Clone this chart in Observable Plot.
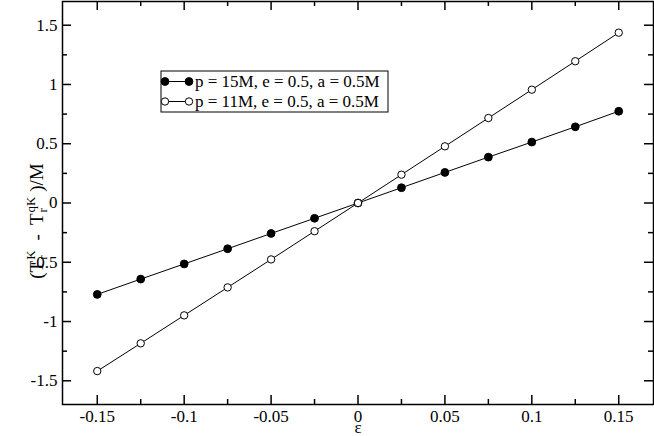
<!DOCTYPE html>
<html>
<head>
<meta charset="utf-8">
<script src="https://cdn.jsdelivr.net/npm/d3@7"></script>
<script src="https://cdn.jsdelivr.net/npm/@observablehq/plot@0.6"></script>
<style>
  html, body { margin: 0; padding: 0; background: white; }
</style>
</head>
<body>
<div id="chart"></div>
<script>
// ---- data ----
const eps = [-0.15, -0.125, -0.1, -0.075, -0.05, -0.025, 0, 0.025, 0.05, 0.075, 0.1, 0.125, 0.15];
const p15 = [-0.771, -0.642, -0.514, -0.386, -0.257, -0.129, 0, 0.129, 0.258, 0.387, 0.514, 0.643, 0.774];
const p11 = [-1.418, -1.184, -0.948, -0.712, -0.476, -0.238, 0, 0.239, 0.478, 0.717, 0.956, 1.196, 1.437];
const seriesNames = ["p = 15M, e = 0.5, a = 0.5M", "p = 11M, e = 0.5, a = 0.5M"];
const xMajor = [-0.15, -0.1, -0.05, 0, 0.05, 0.1, 0.15];
const xMinor = [-0.125, -0.075, -0.025, 0.025, 0.075, 0.125];
const yMajor = [-1.5, -1, -0.5, 0, 0.5, 1, 1.5];
const yMinor = [-1.25, -0.75, -0.25, 0.25, 0.75, 1.25];
const xDomain = [-0.17, 0.17];
const yDomain = [-1.7, 1.7];
const xLabel = "ε";

const d15 = eps.map((e, i) => ({x: e, y: p15[i]}));
const d11 = eps.map((e, i) => ({x: e, y: p11[i]}));

const font = "'Liberation Serif', 'Times New Roman', serif";
const fmt = d => String(d);
const [xMin, xMax] = xDomain;
const [yMin, yMax] = yDomain;

// inward ticks on all four sides, as short rules anchored on the frame
function ticksX(values, len, w) {
  return [
    Plot.ruleX(values, {x: d => d, y1: () => yMin, y2: () => yMin, insetBottom: len, stroke: "#000", strokeWidth: w}),
    Plot.ruleX(values, {x: d => d, y1: () => yMax, y2: () => yMax, insetTop: len, stroke: "#000", strokeWidth: w})
  ];
}
function ticksY(values, len, w) {
  return [
    Plot.ruleY(values, {y: d => d, x1: () => xMin, x2: () => xMin, insetLeft: len, stroke: "#000", strokeWidth: w}),
    Plot.ruleY(values, {y: d => d, x1: () => xMax, x2: () => xMax, insetRight: len, stroke: "#000", strokeWidth: w})
  ];
}

const chart = Plot.plot({
  width: 654,
  height: 436,
  marginLeft: 62,
  marginRight: 1,
  marginTop: 1,
  marginBottom: 32,
  style: {fontFamily: font, fontSize: "17px", background: "white"},
  x: {domain: xDomain, axis: null},
  y: {domain: yDomain, axis: null},
  marks: [
    Plot.axisX({anchor: "bottom", ticks: xMajor, tickSize: 0, tickPadding: 5, tickFormat: fmt, label: null}),
    Plot.axisY({anchor: "left", ticks: yMajor, tickSize: 0, tickPadding: 5, tickFormat: fmt, label: null}),
    Plot.text([xLabel], {frameAnchor: "bottom", dy: 28, lineAnchor: "bottom"}),
    Plot.line(d15, {x: "x", y: "y", stroke: "black", strokeWidth: 1}),
    Plot.line(d11, {x: "x", y: "y", stroke: "black", strokeWidth: 1}),
    Plot.dot(d15, {x: "x", y: "y", r: 3.9, fill: "black", stroke: "black", strokeWidth: 1}),
    Plot.dot(d11, {x: "x", y: "y", r: 3.7, fill: "white", stroke: "black", strokeWidth: 1}),
    Plot.frame({stroke: "black", strokeWidth: 1.5}),
    ...ticksX(xMajor, 9, 1.5),
    ...ticksX(xMinor, 5, 1.5),
    ...ticksY(yMajor, 9, 1.5),
    ...ticksY(yMinor, 5, 1.5)
  ]
});
document.getElementById("chart").appendChild(chart);

const svg = d3.select(chart);

// y-axis label with stacked sub/superscripts
const yl = svg.append("text")
  .attr("transform", "translate(43,221) rotate(-90)")
  .attr("text-anchor", "middle")
  .attr("font-family", font)
  .attr("font-size", 19)
  .attr("fill", "black");
yl.append("tspan").text("(T");
yl.append("tspan").attr("font-size", 13).attr("dx", 1).attr("dy", -8).text("K");
yl.append("tspan").attr("font-size", 13).attr("dx", -9.4).attr("dy", 12).text("r");
yl.append("tspan").attr("dx", 5.4).attr("dy", -4).text("  -  T");
yl.append("tspan").attr("font-size", 13).attr("dx", 1).attr("dy", -8).text("qK");
yl.append("tspan").attr("font-size", 13).attr("dx", -15.9).attr("dy", 12).text("r");
yl.append("tspan").attr("dx", 11.6).attr("dy", -4).text(" )/M");

// legend box
const lg = svg.append("g").attr("font-family", font).attr("font-size", 17).attr("text-anchor", "start");
lg.append("rect").attr("x", 161).attr("y", 71).attr("width", 227).attr("height", 41)
  .attr("fill", "white").attr("stroke", "black").attr("stroke-width", 1);
const rows = [{y: 81.5, fill: "black", r: 3.9}, {y: 101.5, fill: "white", r: 3.7}];
rows.forEach((row, i) => {
  lg.append("line").attr("x1", 165).attr("x2", 189).attr("y1", row.y).attr("y2", row.y)
    .attr("stroke", "black").attr("stroke-width", 1);
  for (const cx of [165, 189]) {
    lg.append("circle").attr("cx", cx).attr("cy", row.y).attr("r", row.r)
      .attr("fill", row.fill).attr("stroke", "black").attr("stroke-width", 1);
  }
  lg.append("text").attr("x", 195).attr("y", row.y + 5.5).attr("text-anchor", "start")
    .attr("fill", "black").text(seriesNames[i]);
});
</script>
</body>
</html>
